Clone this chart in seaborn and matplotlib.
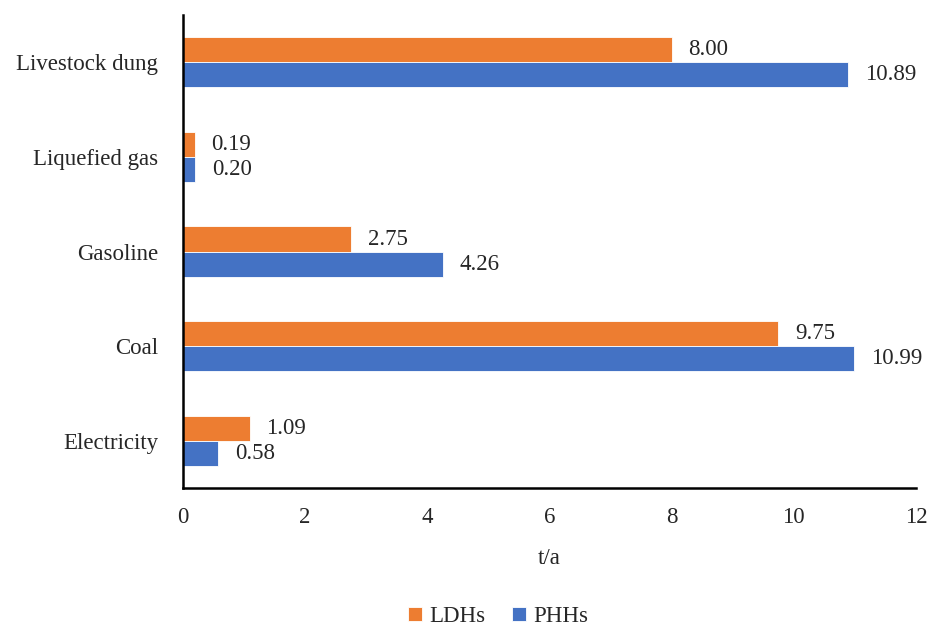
import pandas as pd
import seaborn as sns
import matplotlib.pyplot as plt

categories = ["Livestock dung", "Liquefied gas", "Gasoline", "Coal", "Electricity"]
ldhs = [8.00, 0.19, 2.75, 9.75, 1.09]
phhs = [10.89, 0.20, 4.26, 10.99, 0.58]
groups = ["LDHs", "PHHs"]
colors = {"LDHs": "#ED7D31", "PHHs": "#4472C4"}

df = pd.DataFrame({
    "Source": categories * 2,
    "Group": ["LDHs"] * len(categories) + ["PHHs"] * len(categories),
    "Value": ldhs + phhs,
})

sns.set_style("white")
plt.rcParams["font.family"] = ["Liberation Serif", "DejaVu Serif"]

fig = plt.figure(figsize=(9.27, 6.3), dpi=100)
ax = fig.add_axes([0.1974, 0.2254, 0.7906, 0.7506])

sns.barplot(data=df, y="Source", x="Value", hue="Group", order=categories,
            hue_order=groups, palette=colors, saturation=1, width=0.53, orient="h",
            linewidth=0.6, edgecolor="white", ax=ax)

for container in ax.containers:
    ax.bar_label(container, fmt="%.2f", padding=12, fontsize=16.5)

ax.set_xlim(0, 12)
ax.set_xticks(range(0, 13, 2))
ax.set_xlabel("t/a", fontsize=16.5, labelpad=14)
ax.set_ylabel("")
ax.tick_params(axis="x", direction="in", length=5, width=1.5, labelsize=16.5, pad=14, color="black")
ax.tick_params(axis="y", length=0, labelsize=16.5, pad=18)
for side in ["top", "right"]:
    ax.spines[side].set_visible(False)
for side in ["left", "bottom"]:
    ax.spines[side].set_color("black")
    ax.spines[side].set_linewidth(1.8)

ax.legend(loc="center", bbox_to_anchor=(0.43, -0.272), ncol=2, frameon=False,
          fontsize=16.5, handlelength=0.6, handleheight=0.6, handletextpad=0.3, columnspacing=1.2,
          borderpad=0.1)

fig.savefig("out.png", dpi=100)
